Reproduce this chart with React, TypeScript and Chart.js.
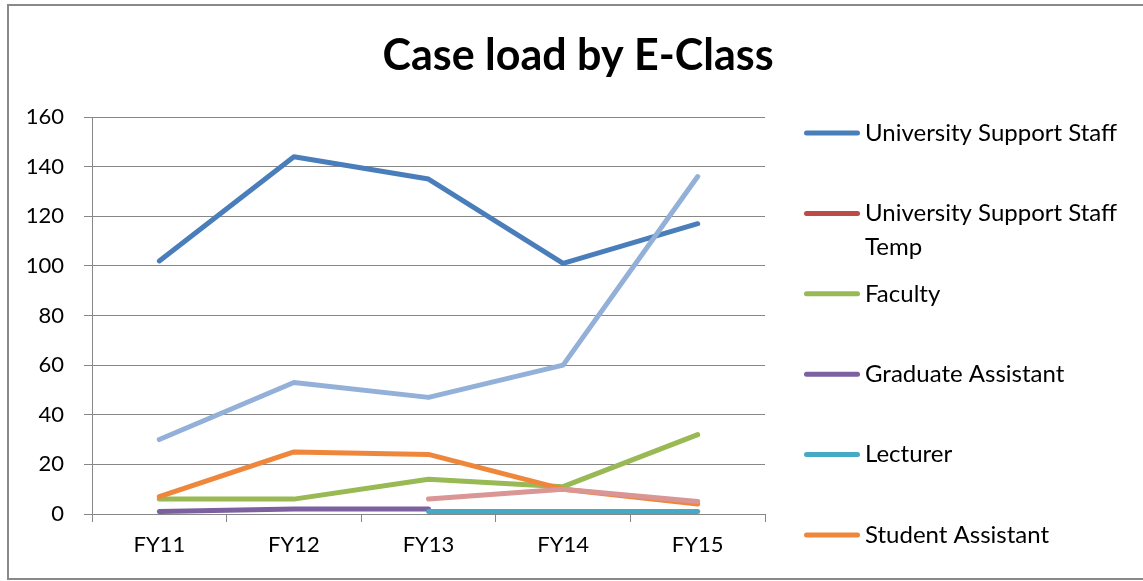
import React, { useEffect, useRef } from "react";
import { Chart, registerables } from "chart.js";

Chart.register(...registerables);

const categories = ["FY11", "FY12", "FY13", "FY14", "FY15"];
const seriesNames = [
  "University Support Staff",
  "University Support Staff Temp",
  "Faculty",
  "Graduate Assistant",
  "Lecturer",
  "Student Assistant",
  "Temporary Staff",
  "Other",
];
const universitySupportStaff = [102, 144, 135, 101, 117];
const universitySupportStaffTemp: (number | null)[] = [null, null, null, null, null];
const faculty = [6, 6, 14, 11, 32];
const graduateAssistant = [1, 2, 2, null, null];
const lecturer = [null, null, 1, 1, 1];
const studentAssistant = [7, 25, 24, 10, 4];
const temporaryStaff = [30, 53, 47, 60, 136];
const other = [null, null, 6, 10, 5];
const yTicks = [0, 20, 40, 60, 80, 100, 120, 140, 160];

const seriesValues = [
  universitySupportStaff,
  universitySupportStaffTemp,
  faculty,
  graduateAssistant,
  lecturer,
  studentAssistant,
  temporaryStaff,
  other,
];
const seriesColors = [
  "#4A7EBB",
  "#BE4B48",
  "#98B954",
  "#7D60A0",
  "#46AAC5",
  "#EE873C",
  "#93B0D8",
  "#D99694",
];

const FONT = "Lato, 'Open Sans', sans-serif";
const GRID = "#878787";

const overlayPlugin = {
  id: "overlay",
  afterDraw(chart: any) {
    const ctx = chart.ctx as CanvasRenderingContext2D;
    ctx.save();
    // title
    ctx.fillStyle = "#000";
    ctx.font = `bold 43px ${FONT}`;
    ctx.textAlign = "center";
    ctx.textBaseline = "alphabetic";
    ctx.fillText("Case load by E-Class", 569, 64);
    // legend
    ctx.font = `24px ${FONT}`;
    ctx.textAlign = "left";
    ctx.textBaseline = "middle";
    const top = 127;
    const step = 80.4;
    const maxW = 268;
    chart.data.datasets.forEach((ds: any, i: number) => {
      const y = top + i * step;
      ctx.strokeStyle = ds.borderColor;
      ctx.lineWidth = 5;
      ctx.lineCap = "round";
      ctx.beginPath();
      ctx.moveTo(797.5, y);
      ctx.lineTo(848.5, y);
      ctx.stroke();
      const words = String(ds.label).split(" ");
      const lines: string[] = [];
      let cur = "";
      words.forEach((w) => {
        const t = cur ? cur + " " + w : w;
        if (cur && ctx.measureText(t).width > maxW) {
          lines.push(cur);
          cur = w;
        } else cur = t;
      });
      if (cur) lines.push(cur);
      ctx.fillStyle = "#000";
      lines.forEach((l, j) => ctx.fillText(l, 856, y + j * 34));
    });
    ctx.restore();
  },
};

export default function App() {
  const ref = useRef<HTMLCanvasElement | null>(null);
  useEffect(() => {
    if (!ref.current) return;
    const n = seriesValues.length;
    const chart = new Chart(ref.current, {
      type: "line",
      data: {
        labels: categories,
        datasets: seriesValues.map((vals, i) => ({
          label: seriesNames[i],
          data: vals,
          borderColor: seriesColors[i],
          backgroundColor: seriesColors[i],
          borderWidth: 5,
          pointRadius: 0,
          pointHoverRadius: 0,
          tension: 0,
          borderCapStyle: "round",
          borderJoinStyle: "round",
          spanGaps: false,
          order: n - i,
        })) as any,
      },
      options: {
        animation: false,
        responsive: true,
        maintainAspectRatio: false,
        layout: { padding: { left: 0, top: 111, right: 378, bottom: 0 } },
        plugins: {
          legend: { display: false },
          title: { display: false },
          tooltip: { enabled: false },
        },
        scales: {
          x: {
            offset: true,
            grid: {
              offset: true,
              drawOnChartArea: false,
              drawTicks: true,
              tickLength: 8,
              color: GRID,
            },
            border: { color: GRID, width: 1 },
            ticks: {
              color: "#000",
              font: { family: FONT, size: 22 },
              padding: 10,
              maxRotation: 0,
            },
            afterFit(scale: any) {
              scale.height = 64;
              scale.paddingLeft = 0;
              scale.paddingRight = 0;
            },
          },
          y: {
            min: 0,
            max: 160,
            afterBuildTicks(scale: any) {
              scale.ticks = yTicks.map((v) => ({ value: v }));
            },
            grid: { color: GRID, tickLength: 8, drawTicks: true },
            border: { color: GRID, width: 1 },
            ticks: {
              color: "#000",
              font: { family: FONT, size: 22 },
              padding: 20,
            },
            afterFit(scale: any) {
              scale.width = 83;
              scale.paddingTop = 0;
              scale.paddingBottom = 0;
            },
          },
        },
      },
      plugins: [overlayPlugin],
    });
    return () => chart.destroy();
  }, []);

  return (
    <div
      style={{
        position: "fixed",
        left: 0,
        top: 0,
        width: 1143,
        height: 581,
        overflow: "hidden",
        background: "#fff",
      }}
    >
      <div
        style={{
          position: "absolute",
          left: 7,
          top: 4,
          width: 1160,
          height: 572,
          border: "2px solid #898989",
          background: "#fff",
        }}
      >
        <div style={{ position: "absolute", left: 0, top: 0, width: 1134, height: 572 }}>
          <canvas ref={ref} />
        </div>
      </div>
    </div>
  );
}
